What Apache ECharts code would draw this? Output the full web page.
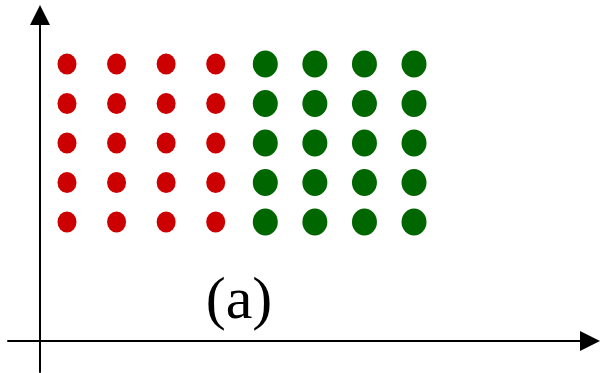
<!DOCTYPE html>
<html>
<head>
<meta charset="utf-8">
<script src="https://cdn.jsdelivr.net/npm/echarts@6/dist/echarts.min.js"></script>
<style>
html, body { margin: 0; padding: 0; background: #fff; }
#chart { width: 600px; height: 373px; }
</style>
</head>
<body>
<div id="chart"></div>
<script>
// 열(column) / 행(row) 번호
var red_cols = [1, 2, 3, 4];
var green_cols = [5, 6, 7, 8];
var rows = [1, 2, 3, 4, 5];
var label_text = '(a)';

function grid_points(cols) { // 열 x 행 조합으로 점 목록 생성
	var res = [];
	for (var i = 0; i < cols.length; i++) {
		for (var j = 0; j < rows.length; j++) {
			res.push([cols[i], rows[j]]);
		}
	}
	return res;
}

var ellipse = 'path://M50,0A50,50,0,1,1,50,100A50,50,0,1,1,50,0Z'; // 타원 심볼

var myChart = echarts.init(document.getElementById('chart'));

var option = {
	animation: false,
	backgroundColor: '#fff',
	grid: { left: 8, right: 10, top: 15, bottom: 1 },
	xAxis: {
		type: 'value',
		min: -0.19,
		max: 11.55,
		offset: -31, // x축을 y=341 위치로
		splitLine: { show: false },
		axisTick: { show: false },
		axisLabel: { show: false },
		axisLine: {
			onZero: false,
			symbol: ['none', 'triangle'],
			symbolSize: [20, 20],
			lineStyle: { color: '#000', width: 2 }
		}
	},
	yAxis: {
		type: 'value',
		min: -2.797,
		max: 6.241,
		offset: -32, // y축을 x=40 위치로
		splitLine: { show: false },
		axisTick: { show: false },
		axisLabel: { show: false },
		axisLine: {
			onZero: false,
			symbol: ['none', 'triangle'],
			symbolSize: [20, 20],
			lineStyle: { color: '#000', width: 2 }
		}
	},
	series: [
		{
			type: 'scatter',
			symbol: ellipse,
			symbolSize: [19, 21],
			itemStyle: { color: '#cc0000', opacity: 1 },
			data: grid_points(red_cols)
		},
		{
			type: 'scatter',
			symbol: ellipse,
			symbolSize: [25, 27],
			itemStyle: { color: '#006600', opacity: 1 },
			data: grid_points(green_cols)
		}
	],
	graphic: [
		{
			type: 'text',
			x: 239,
			y: 302,
			style: {
				text: label_text,
				font: '60px "Liberation Serif", "DejaVu Serif", serif',
				fill: '#000',
				align: 'center',
				verticalAlign: 'middle'
			}
		}
	]
};

myChart.setOption(option);
</script>
</body>
</html>
